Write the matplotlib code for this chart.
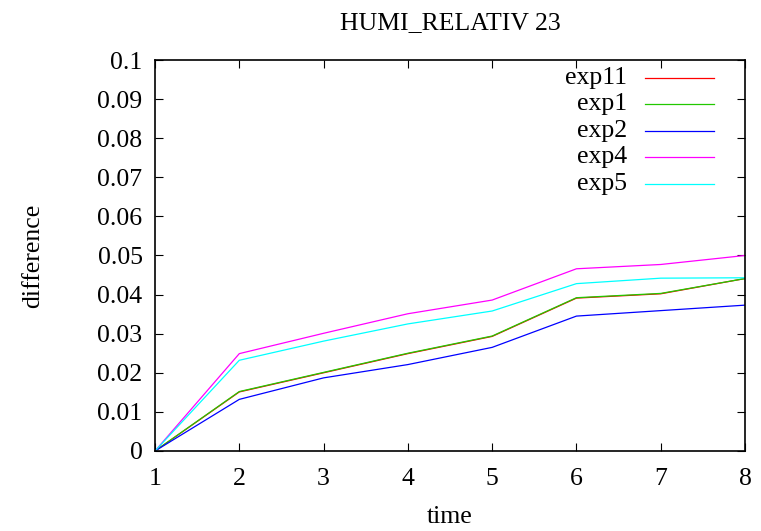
import matplotlib as mpl
import matplotlib.pyplot as plt

mpl.rcParams.update({
    "font.family": "Liberation Serif",
    "font.size": 18.5,
    "xtick.direction": "in",
    "ytick.direction": "in",
    "xtick.top": True,
    "ytick.right": True,
    "xtick.major.size": 6,
    "ytick.major.size": 6,
    "xtick.major.pad": 12,
    "ytick.major.pad": 9,
    "axes.linewidth": 1.2,
})

time = [1, 2, 3, 4, 5, 6, 7, 8]
exp11 = [0.0, 0.0151, 0.0200, 0.0249, 0.0293, 0.0391, 0.0402, 0.0441]
exp1 = [0.0, 0.0152, 0.0201, 0.0250, 0.0294, 0.0392, 0.0403, 0.0441]
exp2 = [0.0, 0.0132, 0.0187, 0.0221, 0.0265, 0.0345, 0.0359, 0.0373]
exp4 = [0.0, 0.0249, 0.0301, 0.0351, 0.0386, 0.0466, 0.0477, 0.0500]
exp5 = [0.0, 0.0232, 0.0281, 0.0325, 0.0358, 0.0428, 0.0442, 0.0443]

series = [
    ("exp11", exp11, "#ff0000"),
    ("exp1", exp1, "#22c800"),
    ("exp2", exp2, "#0000ff"),
    ("exp4", exp4, "#ff00ff"),
    ("exp5", exp5, "#00ffff"),
]

fig = plt.figure(figsize=(7.61, 5.31), dpi=100)
ax = fig.add_axes([0.2037, 0.1507, 0.7753, 0.7363])

# gnuplot-style key: right-aligned names with a short sample line after each
for i, (name, values, color) in enumerate(series):
    ax.plot(time, values, color=color, linewidth=0.9)
    ky = 0.954 - i * 0.0675
    ax.text(0.80, ky, name, transform=ax.transAxes, ha="right", va="center")
    ax.plot([0.83, 0.947], [ky, ky], transform=ax.transAxes, color=color, linewidth=0.9)

ax.set_xlim(1, 8)
ax.set_ylim(0, 0.1)
ax.set_xticks(time)
ax.set_yticks([i / 100 for i in range(11)])
ax.set_yticklabels(["0"] + [f"{i / 100:g}" for i in range(1, 11)])
ax.set_title("HUMI_RELATIV 23", fontsize=18.5, pad=22)
ax.set_xlabel("time", labelpad=12)
ax.set_ylabel("difference", labelpad=38)

fig.savefig("out.png", dpi=100)
